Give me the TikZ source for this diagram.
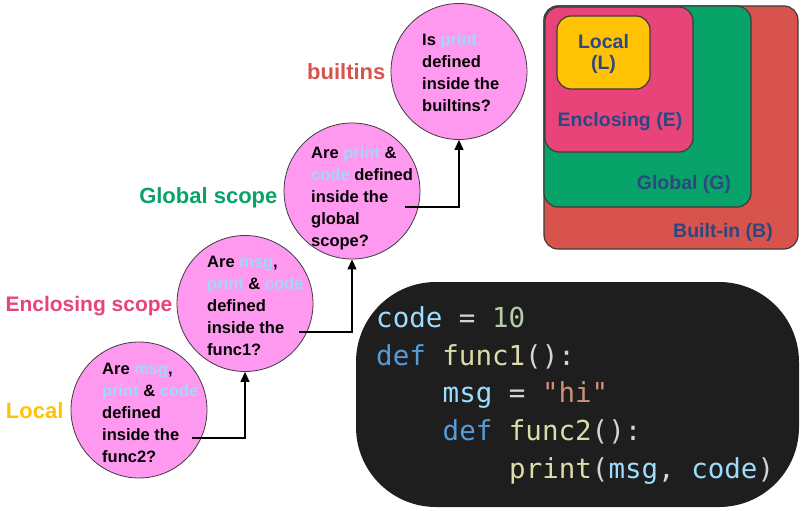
\documentclass[tikz,border=0pt]{standalone}
\usepackage{fontspec}
\setmainfont{Liberation Sans}
\setmonofont{DejaVu Sans Mono}
\usetikzlibrary{arrows.meta,positioning,calc}

\definecolor{bubble}{RGB}{255,153,240}
\definecolor{ident}{RGB}{160,216,250}
\definecolor{localc}{RGB}{255,194,4}
\definecolor{enclc}{RGB}{232,68,122}
\definecolor{globc}{RGB}{8,163,104}
\definecolor{builtc}{RGB}{215,83,76}
\definecolor{boxtext}{RGB}{44,72,130}
\definecolor{edge}{RGB}{60,60,60}
\definecolor{codebg}{RGB}{30,30,30}
\definecolor{cvar}{RGB}{156,220,254}
\definecolor{ckey}{RGB}{86,156,214}
\definecolor{cfun}{RGB}{220,220,170}
\definecolor{cnum}{RGB}{181,206,168}
\definecolor{cstr}{RGB}{206,145,120}
\definecolor{cpun}{RGB}{212,212,212}

\newcommand{\pyname}[1]{\textcolor{ident}{#1}}

\begin{document}
\begin{tikzpicture}[x=1pt, y=-1pt, >={Triangle[length=10pt,width=9pt]},
  question/.style={circle, draw=edge, line width=0.8pt, fill=bubble, minimum size=136pt, inner sep=0pt},
  qtext/.style={align=left, inner sep=0pt, font=\bfseries\fontsize{16.5}{22}\selectfont},
  scopelabel/.style={inner sep=0pt, text height=16pt, text depth=0pt, font=\bfseries\fontsize{22}{26}\selectfont},
  scopebox/.style={draw=edge, line width=1.2pt, rounded corners=14pt},
  boxlabel/.style={inner sep=0pt, text=boxtext, align=center, font=\bfseries\fontsize{19.5}{21}\selectfont},
  codeline/.style={anchor=base west, inner sep=0pt, font=\ttfamily\fontsize{27.5}{30}\selectfont},
  flow/.style={->, line width=1.2pt}]
  \useasboundingbox (0,0) rectangle (804,511);

  \node[question] (q1) at (139,410) {};
  \node[question] (q2) at (245,303.5) {};
  \node[question] (q3) at (352,191) {};
  \node[question] (q4) at (459,71.5) {};

  \node[qtext, anchor=west] (t1) at ($(q1.center)+(-37,3)$)
    {Are \pyname{msg},\\ \pyname{print} \& \pyname{code}\\ defined\\ inside the\\ func2?};
  \node[qtext, anchor=west] (t2) at ($(q2.center)+(-38,2)$)
    {Are \pyname{msg},\\ \pyname{print} \& \pyname{code}\\ defined\\ inside the\\ func1?};
  \node[qtext, anchor=west] (t3) at ($(q3.center)+(-41,7)$)
    {Are \pyname{print} \&\\ \pyname{code} defined\\ inside the\\ global\\ scope?};
  \node[qtext, anchor=west] (t4) at ($(q4.center)+(-37,1)$)
    {Is \pyname{print}\\ defined\\ inside the\\ builtins?};

  \node[scopelabel, text=localc, left=7pt of q1] (l1) {Local};
  \node[scopelabel, text=enclc, left=4pt of q2, font=\bfseries\fontsize{21}{26}\selectfont] (l2) {Enclosing scope};
  \node[scopelabel, text=globc, left=6pt of q3, yshift=-4pt] (l3) {Global scope};
  \node[scopelabel, text=builtc, left=5pt of q4] (l4) {builtins};

  \coordinate (s1) at ($(q1.center)+(53,28)$);
  \coordinate (s2) at ($(q2.center)+(54,28.5)$);
  \coordinate (s3) at ($(q3.center)+(53,16)$);
  \draw[flow] (s1) -| (q2.south);
  \draw[flow] (s2) -| (q3.south);
  \draw[flow] (s3) -| (q4.south);

  \draw[scopebox, fill=builtc] (544,6) rectangle (798,249);
  \draw[scopebox, fill=globc] (544,6) rectangle (751,207);
  \draw[scopebox, fill=enclc] (545,7) rectangle (693,152);
  \draw[scopebox, fill=localc] (557,16) rectangle (650,89);
  \node[boxlabel] (b1) at (603.5,54) {Local\\(L)};
  \node[boxlabel] (b2) at (620,122) {Enclosing (E)};
  \node[boxlabel] (b3) at (684,184) {Global (G)};
  \node[boxlabel] (b4) at (723,232) {Built-in (B)};

  \fill[codebg, rounded corners=80pt] (356,282) rectangle (799,507);
  \node[codeline] (c1) at (376,327)
    {\textcolor{cvar}{code} \textcolor{cpun}{=} \textcolor{cnum}{10}};
  \node[codeline] (c2) at (376,365)
    {\textcolor{ckey}{def} \textcolor{cfun}{func1}\textcolor{cpun}{():}};
  \node[codeline] (c3) at (442.5,402.5)
    {\textcolor{cvar}{msg} \textcolor{cpun}{=} \textcolor{cstr}{"hi"}};
  \node[codeline] (c4) at (442.5,440.5)
    {\textcolor{ckey}{def} \textcolor{cfun}{func2}\textcolor{cpun}{():}};
  \node[codeline] (c5) at (509,478)
    {\textcolor{cfun}{print}\textcolor{cpun}{(}\textcolor{cvar}{msg}\textcolor{cpun}{,} \textcolor{cvar}{code}\textcolor{cpun}{)}};
\end{tikzpicture}
\end{document}
